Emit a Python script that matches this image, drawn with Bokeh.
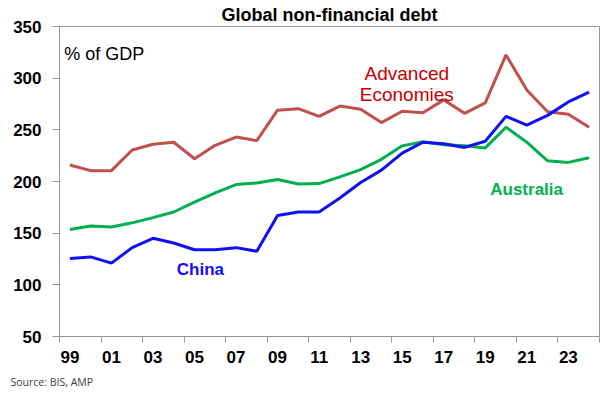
from bokeh.plotting import figure
from bokeh.models import FixedTicker, Label, Range1d, Title
from bokeh.embed import file_html
from bokeh.resources import INLINE

# ---- data ----
years = list(range(1999, 2025))
advanced = [216, 210.5, 210.5, 230.5, 236, 238, 222, 235, 243, 239.5, 269, 270.5,
            263, 273, 270, 257, 268, 266.5, 279, 266, 276, 322.5, 288.5, 267.5, 265, 252.5]
china = [125.5, 127, 121, 136, 145, 140.5, 134, 134, 136, 132.5, 167, 170.5,
         170.5, 184, 199, 211, 227.5, 238, 236.5, 233, 239, 263, 254.5, 264, 277, 286.5]
australia = [153.5, 157, 156, 160, 165, 170.5, 180, 189, 197, 198.5, 202, 197.5,
             198, 204.5, 211.5, 221.5, 234.5, 238.5, 235.5, 234.5, 232.5, 252.5, 238, 220, 218.5, 223]
y_ticks = [50, 100, 150, 200, 250, 300, 350]
x_label_years = years[::2]
x_tick_labels = ["99", "01", "03", "05", "07", "09", "11", "13", "15", "17", "19", "21", "23"]

FONT = "Liberation Sans"
RED_LINE = "#C0504D"
RED_TEXT = "#C80000"
BLUE = "#1010F0"
GREEN = "#00B050"
GRAY = "#969696"

p = figure(width=601, height=395, output_backend="svg", toolbar_location=None,
           x_range=Range1d(years[0] - 0.5, years[-1] + 0.5),
           y_range=Range1d(y_ticks[0], y_ticks[-1]))
p.min_border_left = 59
p.min_border_right = 2
p.min_border_top = 26
p.min_border_bottom = 59
p.background_fill_color = "white"
p.border_fill_color = "white"
p.outline_line_color = GRAY
p.outline_line_width = 1
p.grid.visible = False

# title
p.title.text = "Global non-financial debt"
p.title.align = "center"
p.title.text_font = FONT
p.title.text_font_size = "18px"
p.title.text_font_style = "bold"
p.title.text_color = "black"
p.title.standoff = 4

# x axis: labels centred on odd years, tick marks at category boundaries
boundaries = [y - 0.5 for y in x_label_years] + [years[-1] + 0.5]
p.xaxis.ticker = FixedTicker(ticks=x_label_years, minor_ticks=boundaries)
p.xaxis.major_label_overrides = {yr: lab for yr, lab in zip(x_label_years, x_tick_labels)}
p.xaxis.major_tick_line_color = None
p.xaxis.major_tick_out = 6
p.xaxis.major_tick_in = 0
p.xaxis.minor_tick_line_color = GRAY
p.xaxis.minor_tick_out = 6
p.xaxis.minor_tick_in = 0
p.xaxis.axis_line_color = GRAY
p.xaxis.major_label_standoff = 8
p.xaxis.major_label_text_font = FONT
p.xaxis.major_label_text_font_size = "17px"
p.xaxis.major_label_text_font_style = "bold"
p.xaxis.major_label_text_color = "black"

p.yaxis.ticker = FixedTicker(ticks=y_ticks)
p.yaxis.minor_tick_line_color = None
p.yaxis.major_tick_line_color = GRAY
p.yaxis.major_tick_out = 7
p.yaxis.major_tick_in = 0
p.yaxis.axis_line_color = GRAY
p.yaxis.major_label_standoff = 11
p.yaxis.major_label_text_font = FONT
p.yaxis.major_label_text_font_size = "17px"
p.yaxis.major_label_text_font_style = "bold"
p.yaxis.major_label_text_color = "black"

# source note below the axis
src = Title(text="Source: BIS, AMP", align="left", offset=-49, standoff=14,
            text_font="Open Sans", text_font_size="10.5px", text_font_style="normal",
            text_color="#404040")
p.add_layout(src, "below")

p.line(years, advanced, line_color=RED_LINE, line_width=3)
p.line(years, australia, line_color=GREEN, line_width=3)
p.line(years, china, line_color=BLUE, line_width=3)

def lab(x, y, text, size, color="black", style="normal", align="left"):
    p.add_layout(Label(x=x, y=y, text=text, text_font=FONT, text_font_size=size,
                       text_color=color, text_font_style=style, text_align=align,
                       text_baseline="alphabetic"))

lab(1998.73, 323.6, "% of GDP", "18px")
lab(2015.22, 304.2, "Advanced", "19px", color=RED_TEXT, align="center")
lab(2015.22, 283.9, "Economies", "19px", color=RED_TEXT, align="center")
lab(2004.15, 114.8, "China", "17px", color=BLUE, style="bold")
lab(2019.24, 192.3, "Australia", "17px", color=GREEN, style="bold")

open("out.html", "w").write(file_html(p, INLINE))
